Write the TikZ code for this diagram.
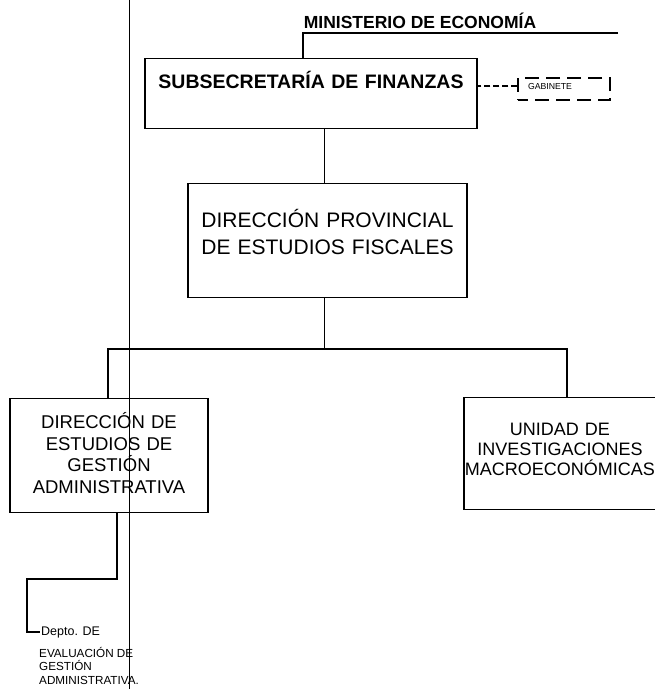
\documentclass[tikz,border=0pt]{standalone}
\usepackage{fontspec}
\setmainfont{Liberation Sans}
\usepackage{tikz}

\tikzset{
  orgbox/.style={draw, line width=1.1pt, inner sep=0pt, align=center, anchor=north},
  link/.style={line width=1.1pt},
  deptlink/.style={line width=2.4pt},
  foldline/.style={line width=0.8pt},
}

\begin{document}
\begin{tikzpicture}[x=1pt,y=-1pt]
            % Frame
            \useasboundingbox (0,0) rectangle (655,689);

            % Fold of the scanned page
            \coordinate (foldtop) at (129,0);
            \coordinate (foldbot) at (129,689);
            \draw[foldline] (foldtop) -- (foldbot);

            % Header
            \node[font=\fontsize{17.5}{20}\selectfont\bfseries, anchor=base] (min) at (420,28) {MINISTERIO DE ECONOMÍA};

            % Boxes
            \node[orgbox, text width=332, text height=30, text depth=40,
                  font=\fontsize{19.5}{22}\selectfont\bfseries] (subsec) at (311,58) {SUBSECRETARÍA DE FINANZAS};
            \node[draw, line width=1.1pt, dash pattern=on 14pt off 7pt, dash phase=4pt,
                  text width=72, align=left, inner xsep=10pt, inner ysep=0pt,
                  text height=11, text depth=11, font=\fontsize{8.7}{10}\selectfont] (gab) at (564,89) {GABINETE};
            \node[orgbox, text width=279, text height=44, text depth=70,
                  font=\fontsize{21}{26.5}\selectfont] (prov) at (327.5,183) {DIRECCIÓN PROVINCIAL\\DE ESTUDIOS FISCALES};
            \node[orgbox, text width=198, text height=30, text depth=84,
                  font=\fontsize{18.5}{21.7}\selectfont] (dirges) at (109,398) {DIRECCIÓN DE\\ESTUDIOS DE\\GESTIÓN\\ADMINISTRATIVA};
            \node[orgbox, text width=192, text height=38, text depth=74,
                  font=\fontsize{18}{20}\selectfont] (unidad) at (560,397) {UNIDAD DE\\INVESTIGACIONES\\MACROECONÓMICAS};

            % Department
            \node[anchor=west, inner sep=1pt, font=\fontsize{12.5}{14}\selectfont] (depto) at (40,632) {Depto. DE};
            \node[anchor=north west, align=left, inner sep=0pt,
                  font=\fontsize{11.7}{13.5}\selectfont] (deptname) at (39,647) {EVALUACIÓN DE\\GESTIÓN\\ADMINISTRATIVA.};

            % Connectors
            \coordinate (minend) at (618,33);
            \coordinate (busL) at (108,349);
            \coordinate (busR) at (567,349);
            \coordinate (deptbend) at (27,579);
            \draw[link] (minend) -| ([xshift=-8pt]subsec.north);
            \draw[link, dash pattern=on 6pt off 3pt] ([yshift=3pt]gab.west) -- ++(-41,0);
            \draw[link] ([xshift=-3pt]prov.north) -- ([xshift=-3pt]prov.north |- subsec.south);
            \draw[link] ([xshift=-3pt]prov.south) -- ([xshift=-3pt]prov.south |- busL);
            \draw[link] (dirges.north -| busL) -- (busL) -- (busR) -- (busR |- unidad.north);
            \draw[deptlink] ([xshift=8pt]dirges.south) |- (deptbend) |- (depto.west);
        \end{tikzpicture}
\end{document}
